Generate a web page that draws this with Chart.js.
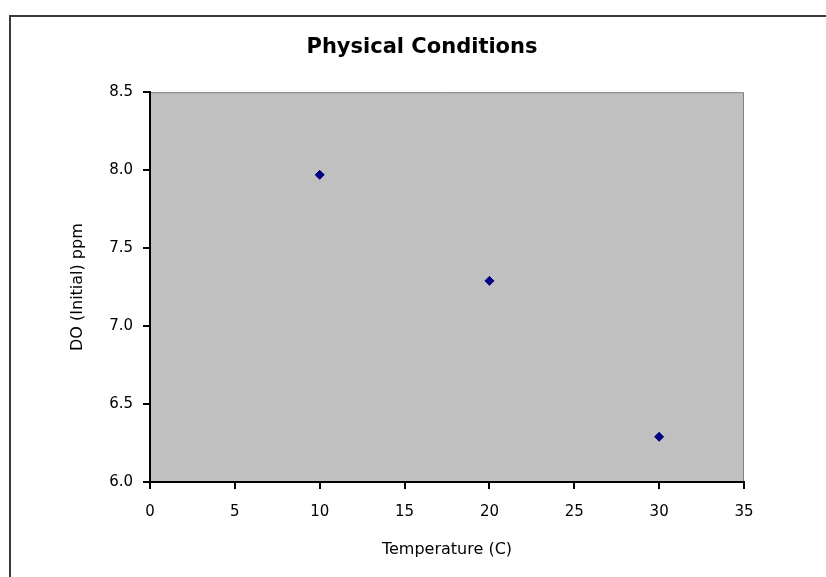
<!DOCTYPE html>
<html lang="en">
<head>
    <meta charset="utf-8" />
    <title>Physical Conditions</title>
    <script src="https://cdn.jsdelivr.net/npm/chart.js"></script>
    <style>
        html, body {
            margin: 0;
            padding: 0;
            background: #fff;
            overflow: hidden;
        }

        /* outer frame of the chart, runs off the right and bottom edge */
        .frame {
            position: absolute;
            left: 9px;
            top: 15px;
            width: 900px;
            height: 700px;
            border: 2px solid #3a3a3a;
        }

        #myChart {
            position: absolute;
            left: 0;
            top: 0;
        }
    </style>
</head>
<body>
    <div class="frame"></div>
    <canvas id="myChart" width="826" height="577"></canvas>
    <script>
        // data
        const temperature = [10, 20, 30];
        const doInitial = [7.97, 7.29, 6.29];

        const xTicks = [0, 5, 10, 15, 20, 25, 30, 35];
        const yTicks = [6.0, 6.5, 7.0, 7.5, 8.0, 8.5];

        const points = temperature.map((t, i) => ({ x: t, y: doInitial[i] }));

        // grey plot area with a thin grey edge at top and right
        const plotBackground = {
            id: 'plotBackground',
            beforeDraw(chart) {
                const { ctx, chartArea: a } = chart;
                ctx.save();
                ctx.fillStyle = '#c0c0c0';
                ctx.fillRect(a.left, a.top, a.right - a.left, a.bottom - a.top);
                ctx.strokeStyle = '#808080';
                ctx.lineWidth = 1;
                ctx.beginPath();
                ctx.moveTo(a.left, a.top + 0.5);
                ctx.lineTo(a.right - 0.5, a.top + 0.5);
                ctx.lineTo(a.right - 0.5, a.bottom);
                ctx.stroke();
                ctx.restore();
            }
        };

        const ctx = document.getElementById('myChart').getContext('2d');
        const myChart = new Chart(ctx, {
            type: 'scatter',
            data: {
                datasets: [{
                    data: points,
                    backgroundColor: '#000080',
                    borderColor: '#000080',
                    pointStyle: 'rectRot',
                    pointRadius: 4.5,
                    pointHoverRadius: 4.5
                }]
            },
            plugins: [plotBackground],
            options: {
                responsive: false,
                animation: false,
                layout: {
                    padding: { left: 18, right: 0, top: 0, bottom: 0 }
                },
                plugins: {
                    legend: { display: false },
                    tooltip: { enabled: false },
                    title: {
                        display: true,
                        text: 'Physical Conditions',
                        color: '#000',
                        font: { family: 'DejaVu Sans', size: 21, weight: 'bold' },
                        padding: { top: 35, bottom: 32 }
                    }
                },
                scales: {
                    x: {
                        type: 'linear',
                        min: 0,
                        max: 35,
                        afterBuildTicks: scale => {
                            scale.ticks = xTicks.map(v => ({ value: v }));
                        },
                        afterFit: scale => {
                            scale.height = 95;
                            scale.paddingLeft = 0;
                            scale.paddingRight = 82;
                        },
                        grid: {
                            drawOnChartArea: false,
                            color: '#000',
                            lineWidth: 2,
                            tickLength: 7
                        },
                        border: { color: '#000', width: 2 },
                        ticks: {
                            color: '#000',
                            padding: 14,
                            maxRotation: 0,
                            font: { family: 'DejaVu Sans', size: 15 }
                        },
                        title: {
                            display: true,
                            text: 'Temperature (C)',
                            color: '#000',
                            font: { family: 'DejaVu Sans', size: 16 },
                            padding: { top: 0, bottom: 18 }
                        }
                    },
                    y: {
                        type: 'linear',
                        min: 6,
                        max: 8.5,
                        afterBuildTicks: scale => {
                            scale.ticks = yTicks.map(v => ({ value: v }));
                        },
                        afterFit: scale => {
                            scale.width = 132;
                        },
                        grid: {
                            drawOnChartArea: false,
                            color: '#000',
                            lineWidth: 2,
                            tickLength: 7
                        },
                        border: { color: '#000', width: 2 },
                        ticks: {
                            color: '#000',
                            padding: 10,
                            font: { family: 'DejaVu Sans', size: 15 },
                            callback: v => v.toFixed(1)
                        },
                        title: {
                            display: true,
                            text: 'DO (Initial) ppm',
                            color: '#000',
                            font: { family: 'DejaVu Sans', size: 16 },
                            padding: { top: 50, bottom: 0 }
                        }
                    }
                }
            }
        });
    </script>
</body>
</html>
